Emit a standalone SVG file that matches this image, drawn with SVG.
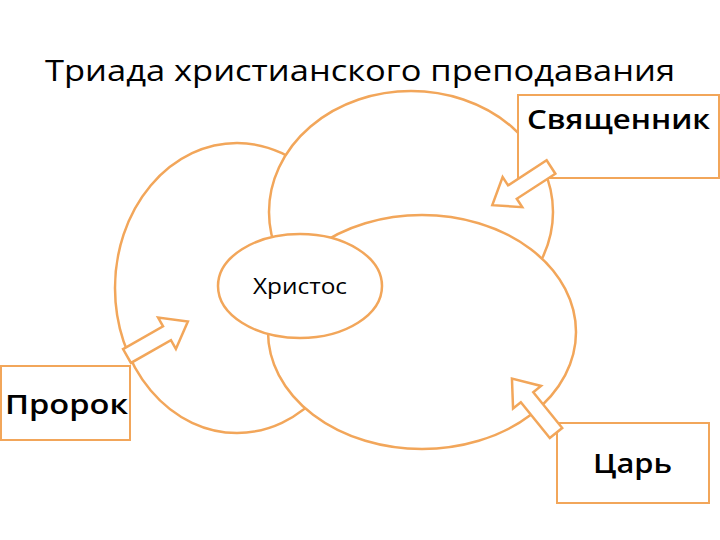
<svg xmlns="http://www.w3.org/2000/svg" width="720" height="540" viewBox="0 0 720 540">
<defs>
<style>
.sh{fill:#fff;stroke:#F2A65A;stroke-width:2.5}
.bx{fill:#fff;stroke:#F2A65A;stroke-width:2}
.t{font-family:"Open Sans","Liberation Sans",sans-serif;fill:#000}
</style>
<path id="ar" d="M0,-8 H46 V-18 L70,0 L46,18 V8 H0 Z"/>
</defs>
<rect width="720" height="540" fill="#fff"/>
<text class="t" x="45" y="81" font-size="29" textLength="630" lengthAdjust="spacingAndGlyphs">Триада христианского преподавания</text>
<g id="prorok-circle"><ellipse class="sh" cx="237" cy="288" rx="122" ry="145"/></g>
<g id="svyash-circle"><ellipse class="sh" cx="411" cy="212" rx="142" ry="121"/></g>
<g id="tsar-circle"><ellipse class="sh" cx="422" cy="332" rx="154" ry="117"/></g>
<g id="christ"><ellipse class="sh" cx="300" cy="286" rx="82" ry="52"/>
<text class="t" x="253" y="294" font-size="22" textLength="94" lengthAdjust="spacingAndGlyphs">Христос</text></g>
<g id="svyashchennik"><rect class="bx" x="518" y="95" width="201" height="83"/>
<text class="t" x="527" y="129" font-size="27" font-weight="600" textLength="183" lengthAdjust="spacingAndGlyphs">Священник</text></g>
<g id="prorok"><rect class="bx" x="1" y="366" width="129" height="74"/>
<text class="t" x="5" y="414" font-size="27" font-weight="600" textLength="123" lengthAdjust="spacingAndGlyphs">Пророк</text></g>
<g id="tsar"><rect class="bx" x="557" y="423" width="152" height="80"/>
<text class="t" x="593" y="473" font-size="27" font-weight="600" textLength="79" lengthAdjust="spacingAndGlyphs">Царь</text></g>
<g id="connectors">
<use href="#ar" class="sh" transform="translate(551,167) rotate(147)"/>
<use href="#ar" class="sh" transform="translate(127,356) rotate(-29.6)"/>
<use href="#ar" class="sh" transform="translate(556,433) rotate(-129)"/>
</g>
</svg>
